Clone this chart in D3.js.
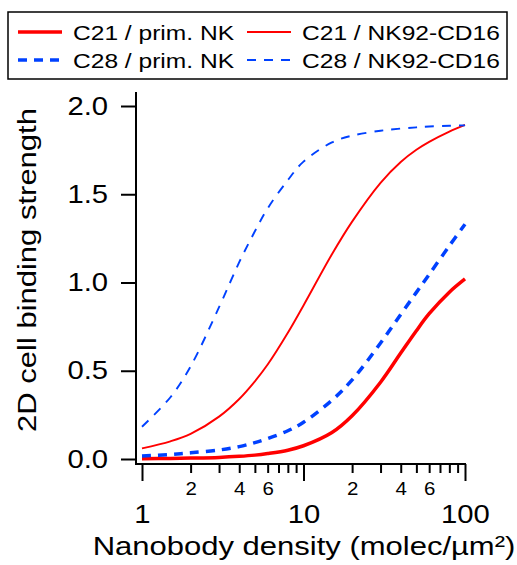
<!DOCTYPE html>
<html lang="en">
<head>
<meta charset="UTF-8">
<script src="https://d3js.org/d3.v7.min.js"></script>
<style>
  body { margin: 0; background: #fff; }
  svg text { font-family: "Liberation Sans", Arial, Helvetica, sans-serif; fill: #000; }
</style>
</head>
<body>
<div id="chart"></div>
<script>
var density = [1, 1.5, 2, 3, 4, 5, 6, 8, 10, 15, 20, 30, 40, 50, 60, 80, 100];

// 2D cell binding strength per condition
var c21Prim  = [0.002, 0.003, 0.005, 0.009, 0.015, 0.022, 0.031, 0.05, 0.075, 0.15, 0.245, 0.435, 0.6, 0.727, 0.823, 0.945, 1.02];
var c21NK92  = [0.06, 0.1, 0.142, 0.24, 0.34, 0.44, 0.535, 0.715, 0.87, 1.16, 1.345, 1.565, 1.683, 1.752, 1.797, 1.855, 1.893];
var c28Prim  = [0.017, 0.026, 0.035, 0.051, 0.07, 0.093, 0.116, 0.16, 0.208, 0.333, 0.448, 0.657, 0.819, 0.944, 1.046, 1.208, 1.33];
var c28NK92  = [0.183, 0.35, 0.525, 0.86, 1.115, 1.29, 1.42, 1.58, 1.685, 1.794, 1.832, 1.86, 1.872, 1.879, 1.884, 1.888, 1.89];

var seriesNames = ["C21 / prim. NK", "C21 / NK92-CD16", "C28 / prim. NK", "C28 / NK92-CD16"];

var yTicks = [0, 0.5, 1.0, 1.5, 2.0];
var xMajor = [1, 10, 100];
var xMinor = [2, 3, 4, 5, 6, 7, 8, 9, 20, 30, 40, 50, 60, 70, 80, 90];
var xMinorLabeled = [2, 4, 6, 20, 40, 60];

var SX = 1.17; // the original font runs wider than Arial

var series = [
  {name: seriesNames[0], values: c21Prim, color: "#ff0000", width: 3.5, dash: null},
  {name: seriesNames[1], values: c21NK92, color: "#ff0000", width: 1.9, dash: null},
  {name: seriesNames[2], values: c28Prim, color: "#0041ff", width: 3.5, dash: "9,7"},
  {name: seriesNames[3], values: c28NK92, color: "#0041ff", width: 1.9, dash: "9,8"}
];

var svg = d3.select("#chart").append("svg")
  .attr("width", 517).attr("height", 565)
  .attr("viewBox", "0 0 517 565");

var x = d3.scaleLog().domain([1, 100]).range([142, 465]);
var y = d3.scaleLinear().domain([0, 2]).range([459, 106]);

// curves
var line = d3.line()
  .x(function(d) { return x(d[0]); })
  .y(function(d) { return y(d[1]); })
  .curve(d3.curveCatmullRom.alpha(0.5));

series.forEach(function(s) {
  svg.append("path")
    .datum(density.map(function(d, i) { return [d, s.values[i]]; }))
    .attr("d", line)
    .attr("fill", "none")
    .attr("stroke", s.color)
    .attr("stroke-width", s.width)
    .attr("stroke-dasharray", s.dash);
});

// y axis
var yAxis = svg.append("g")
  .attr("transform", "translate(136,0)")
  .call(d3.axisLeft(y).tickValues(yTicks).tickSize(15).tickFormat(d3.format(".1f")));
yAxis.select(".domain").remove();
yAxis.selectAll("line").attr("stroke-width", 2);
yAxis.selectAll("text")
  .attr("font-size", 25)
  .attr("x", -28 / SX)
  .attr("transform", "scale(" + SX + ",1)");

// x axis: minor ticks + small labels
var xMin = svg.append("g")
  .attr("transform", "translate(0,464)")
  .call(d3.axisBottom(x).tickValues(xMinor).tickSize(9).tickPadding(10)
    .tickFormat(function(d) { return xMinorLabeled.indexOf(d) >= 0 ? String(d).charAt(0) : ""; }));
xMin.select(".domain").remove();
xMin.selectAll("line").attr("stroke-width", 2);
xMin.selectAll("text").attr("font-size", 17.5).attr("transform", "scale(" + SX + ",1)");

// x axis: decades
var xMaj = svg.append("g")
  .attr("transform", "translate(0,464)")
  .call(d3.axisBottom(x).tickValues(xMajor).tickSize(17).tickPadding(24).tickFormat(d3.format("d")));
xMaj.select(".domain").remove();
xMaj.selectAll("line").attr("stroke-width", 2);
xMaj.selectAll("text").attr("font-size", 25).attr("transform", "scale(" + SX + ",1)");

// axis lines
svg.append("line").attr("x1", 136).attr("x2", 136).attr("y1", 92).attr("y2", 465)
  .attr("stroke", "#000").attr("stroke-width", 2);
svg.append("line").attr("x1", 135).attr("x2", 466).attr("y1", 464).attr("y2", 464)
  .attr("stroke", "#000").attr("stroke-width", 2);

// axis titles
svg.append("text")
  .attr("transform", "translate(304,555) scale(" + SX + ",1)")
  .attr("text-anchor", "middle")
  .attr("font-size", 26.5)
  .text("Nanobody density (molec/\u00b5m\u00b2)");

svg.append("text")
  .attr("transform", "translate(36,270) rotate(-90) scale(" + SX + ",1)")
  .attr("text-anchor", "middle")
  .attr("font-size", 26.5)
  .text("2D cell binding strength");

// legend
var legend = svg.append("g");
legend.append("rect")
  .attr("x", 8).attr("y", 12).attr("width", 499).attr("height", 67)
  .attr("fill", "#fff").attr("stroke", "#000").attr("stroke-width", 1.5);

var legPos = [
  {lx: 18, ty: 32, tx: 73},
  {lx: 247, ty: 32, tx: 302},
  {lx: 18, ty: 60, tx: 73},
  {lx: 247, ty: 60, tx: 302}
];

series.forEach(function(s, i) {
  var p = legPos[i];
  legend.append("line")
    .attr("x1", p.lx).attr("x2", p.lx + 44)
    .attr("y1", p.ty).attr("y2", p.ty)
    .attr("stroke", s.color)
    .attr("stroke-width", s.width)
    .attr("stroke-dasharray", s.dash);
  legend.append("text")
    .attr("transform", "translate(" + p.tx + "," + (p.ty + 8) + ") scale(" + SX + ",1)")
    .attr("font-size", 21)
    .text(s.name);
});
</script>
</body>
</html>
